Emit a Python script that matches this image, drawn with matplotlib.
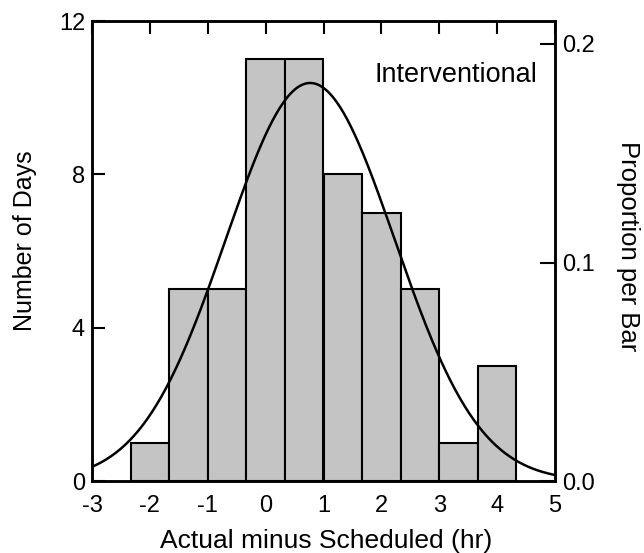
import numpy as np
import matplotlib
matplotlib.use("Agg")
import matplotlib.pyplot as plt

plt.rcParams['font.family'] = ['Liberation Sans', 'DejaVu Sans']

# histogram of actual minus scheduled hours
bin_start = -7 / 3
bin_width = 2 / 3
counts = [1, 5, 5, 11, 11, 8, 7, 5, 1, 3]
n_days = sum(counts)

# fitted normal curve
fit_mean = 0.77
fit_sd = 1.46

x_ticks = [-3, -2, -1, 0, 1, 2, 3, 4, 5]
y_ticks = [0, 4, 8, 12]
prop_ticks = [0.0, 0.1, 0.2]

W, H = 644, 553
fig = plt.figure(figsize=(W / 100, H / 100), dpi=100)
ax = fig.add_axes([92 / W, 1 - 481 / H, (555 - 92) / W, (481 - 21) / H])

lefts = bin_start + bin_width * np.arange(len(counts))
ax.bar(lefts, counts, width=bin_width, align='edge', color='#c4c4c4',
       edgecolor='black', linewidth=1.5, zorder=2)

xs = np.linspace(-3, 5, 400)
dens = np.exp(-0.5 * ((xs - fit_mean) / fit_sd) ** 2) / (fit_sd * np.sqrt(2 * np.pi))
ax.plot(xs, dens * n_days * bin_width, color='black', lw=1.8, zorder=3)

ax.set_xlim(-3, 5)
ax.set_ylim(0, 12)
ax.set_xticks(x_ticks)
ax.set_xticklabels([str(v) for v in x_ticks])
ax.set_yticks(y_ticks)
ax.tick_params(axis='x', bottom=False, top=True, direction='in', length=9.5,
               width=1.5, labelsize=17, pad=10)
ax.tick_params(axis='y', left=True, direction='in', length=9.5, width=1.5,
               labelsize=17, pad=5)
for s in ax.spines.values():
    s.set_linewidth(1.8)

ax.text(0.963, 0.883, 'Interventional', transform=ax.transAxes, ha='right',
        va='center', fontsize=19.5)

ax2 = ax.twinx()
ax2.set_ylim(0, 12 / n_days)
ax2.set_yticks(prop_ticks)
ax2.set_yticklabels(['0.0', '0.1', '0.2'])
ax2.tick_params(axis='y', direction='in', length=10.5, width=1.5,
                labelsize=17, pad=5)
for s in ax2.spines.values():
    s.set_linewidth(1.8)

# axis titles placed where they sit in the original
fig.text(326 / W, 1 - 548 / H, 'Actual minus Scheduled (hr)', ha='center',
         va='baseline', fontsize=19)
fig.text(25 / W, 1 - 241 / H, 'Number of Days', rotation=90, ha='center',
         va='center', fontsize=18)
fig.text(628 / W, 1 - 246 / H, 'Proportion per Bar', rotation=270, ha='center',
         va='center', fontsize=18.5)

fig.savefig('out.png', dpi=100)
